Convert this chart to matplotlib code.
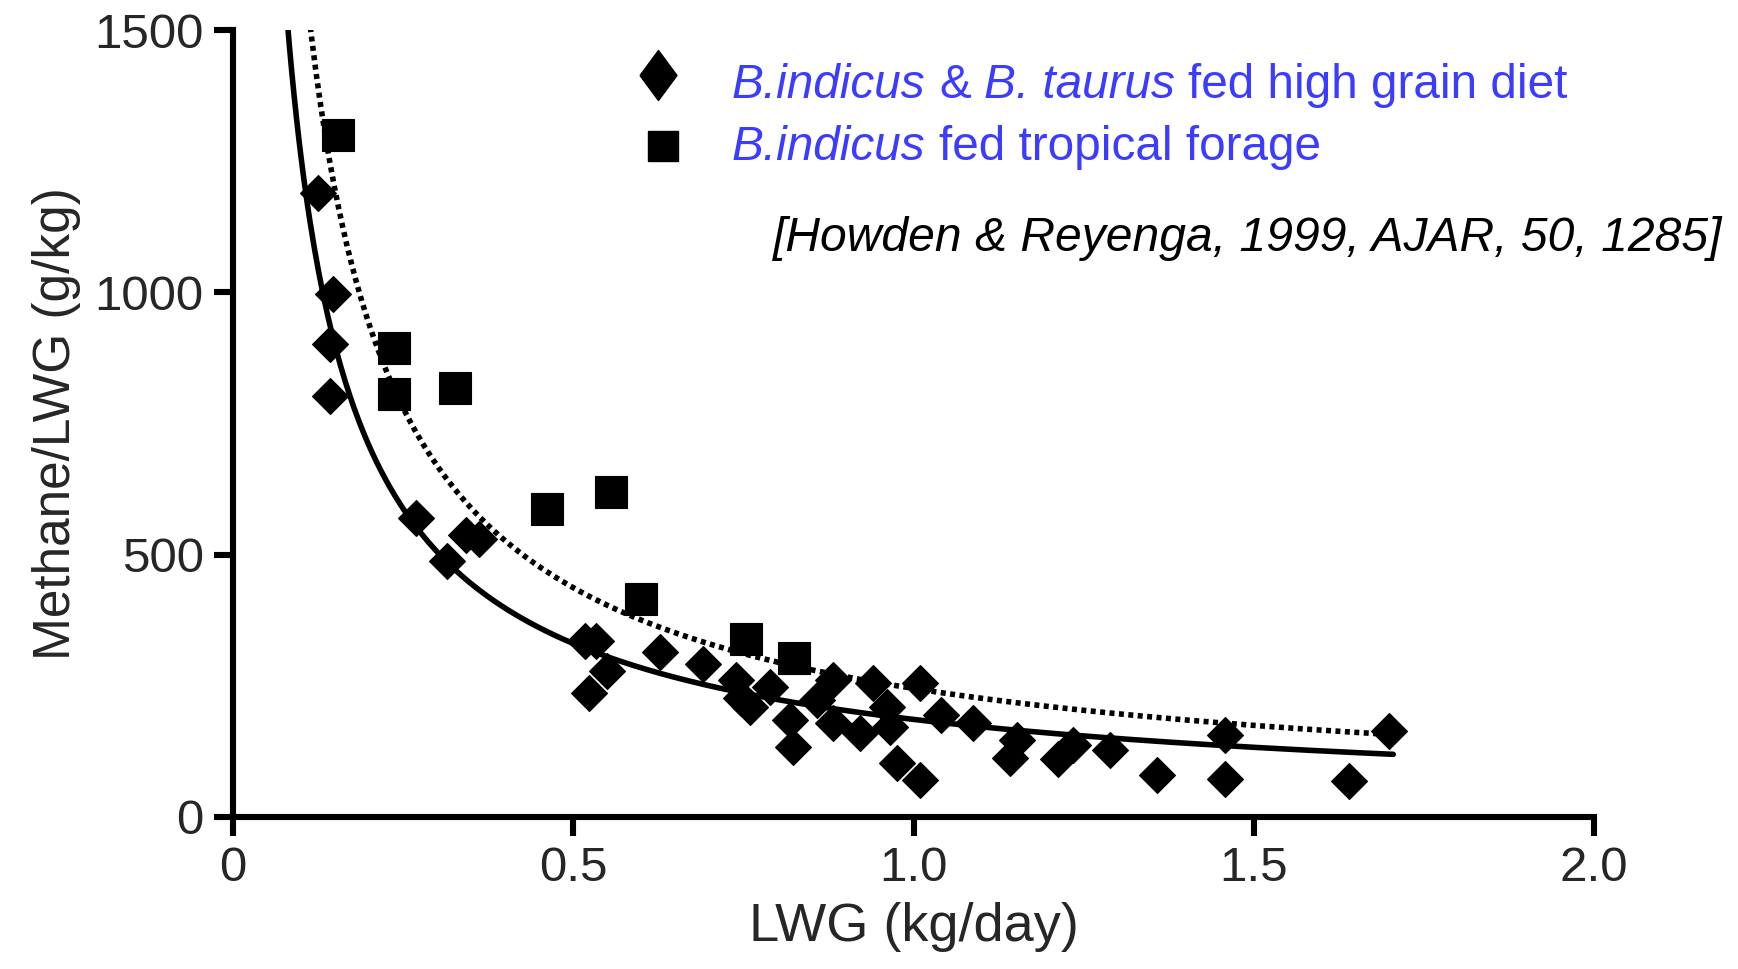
import numpy as np
import matplotlib
matplotlib.use("Agg")
import matplotlib.pyplot as plt
from matplotlib.lines import Line2D

# ---------------- data ----------------
grain_lwg = [0.125, 0.147, 0.142, 0.143, 0.269, 0.314, 0.342, 0.362, 0.518, 0.533,
             0.523, 0.550, 0.627, 0.690, 0.739, 0.746, 0.760, 0.789, 0.819, 0.823,
             0.858, 0.882, 0.882, 0.921, 0.940, 0.961, 0.965, 0.976, 1.010, 1.010,
             1.040, 1.087, 1.142, 1.152, 1.213, 1.235, 1.289, 1.358, 1.458, 1.458,
             1.640, 1.699]
grain_ch4 = [1190, 997, 902, 803, 570, 488, 537, 530, 336, 336,
             237, 279, 315, 291, 262, 226, 210, 248, 185, 133,
             223, 261, 179, 160, 255, 210, 172, 103, 255, 71,
             195, 179, 112, 147, 110, 137, 128, 80, 156, 72,
             68, 163]

forage_lwg = [0.155, 0.236, 0.236, 0.326, 0.461, 0.555, 0.599, 0.754, 0.824]
forage_ch4 = [1299, 894, 807, 818, 587, 619, 416, 340, 304]

# fitted power curves  y = a * x**b  (parameters)
grain_fit_a, grain_fit_b = 186.0, -0.83
forage_fit_a, forage_fit_b = 245.0, -0.835
fit_x_range = (0.07, 1.705)

x_ticks = [0, 0.5, 1.0, 1.5, 2.0]
x_ticklabels = ["0", "0.5", "1.0", "1.5", "2.0"]
y_ticks = [0, 500, 1000, 1500]

x_label = "LWG (kg/day)"
y_label = "Methane/LWG (g/kg)"
# legend labels as (text, italic) segments
legend_line1 = [("B.indicus", True), ("&", False), ("B. taurus", True),
                ("fed high grain diet", False)]
legend_line2 = [("B.indicus", True), ("fed tropical forage", False)]
citation = "[Howden & Reyenga, 1999, AJAR, 50, 1285]"

# ---------------- style ----------------
plt.rcParams["font.family"] = ["Liberation Sans", "DejaVu Sans"]

W, H = 1738, 969
fig = plt.figure(figsize=(W / 100, H / 100), dpi=100)
ax = fig.add_axes([233 / W, 1 - 817 / H, (1594 - 233) / W, (817 - 30) / H])

text_col = "#262626"
blue = "#3c3cff"

# fitted curves
xs = np.linspace(fit_x_range[0], fit_x_range[1], 500)
ax.plot(xs, grain_fit_a * xs ** grain_fit_b, color="black", lw=4.0,
        solid_capstyle="round", zorder=2)
ax.plot(xs, forage_fit_a * xs ** forage_fit_b, color="black", lw=4.0,
        linestyle=(0, (0.9, 0.8)), zorder=2)

# scatter points
ax.plot(grain_lwg, grain_ch4, linestyle="none", marker="D", ms=18,
        mfc="black", mec="black", mew=0.8, zorder=3)
ax.plot(forage_lwg, forage_ch4, linestyle="none", marker="s", ms=23,
        mfc="black", mec="black", mew=0.8, zorder=3)

ax.set_xlim(0, 2.0)
ax.set_ylim(0, 1500)
ax.set_xticks(x_ticks)
ax.set_xticklabels(x_ticklabels)
ax.set_yticks(y_ticks)

for s in ("top", "right"):
    ax.spines[s].set_visible(False)
for s in ("left", "bottom"):
    ax.spines[s].set_linewidth(4.4)
    ax.spines[s].set_color("black")

ax.tick_params(direction="out", length=14, width=4.4, color="black",
               labelsize=35.5, labelcolor=text_col, pad=7)

ax.set_xlabel(x_label, fontsize=39, color=text_col, labelpad=8)
ax.set_ylabel(y_label, fontsize=37, color=text_col, labelpad=10)

# legend (manually placed markers and mixed-style labels)
diamond = [(-0.37, 0.0), (0.0, 0.5), (0.37, 0.0), (0.0, -0.5), (-0.37, 0.0)]
fig.add_artist(Line2D([658 / W], [1 - 75 / H], transform=fig.transFigure,
                      marker=diamond, ms=36, mfc="black", mec="black",
                      linestyle="none"))
fig.add_artist(Line2D([663 / W], [1 - 146 / H], transform=fig.transFigure,
                      marker="s", ms=22.3, mfc="black", mec="black",
                      linestyle="none"))

renderer = fig.canvas.get_renderer()
leg_fs = 34.4
space_px = 0.278 * leg_fs * 100 / 72


def rich_text(x_px, base_px, segments, fs, color):
    x = x_px
    for txt, it in segments:
        t = fig.text(x / W, 1 - base_px / H, txt, fontsize=fs, color=color,
                     style="italic" if it else "normal",
                     va="baseline", ha="left")
        bb = t.get_window_extent(renderer)
        x = bb.x1 + space_px


rich_text(732, 98, legend_line1, leg_fs, blue)
rich_text(732, 160, legend_line2, leg_fs, blue)

fig.text(773 / W, 1 - 251 / H, citation, fontsize=34.6, style="italic",
         color="black", va="baseline", ha="left")

fig.savefig("out.png", dpi=100, facecolor="white")
